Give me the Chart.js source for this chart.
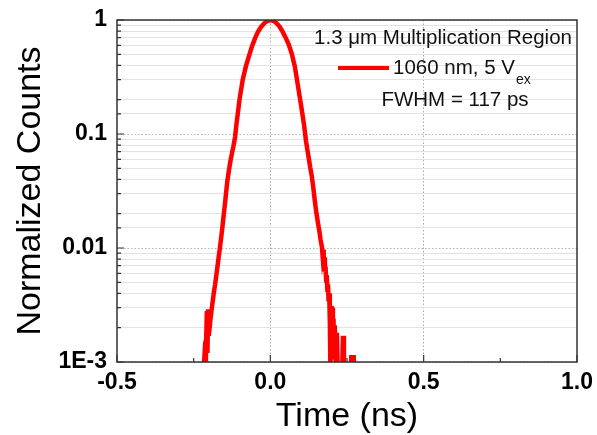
<!DOCTYPE html>
<html>
<head>
<meta charset="utf-8">
<script src="https://cdn.jsdelivr.net/npm/chart.js@4/dist/chart.umd.min.js"></script>
<style>
  html, body { margin: 0; padding: 0; background: #fff; }
  #wrap { width: 597px; height: 435px; }
</style>
</head>
<body>
<div id="wrap"><canvas id="c" width="597" height="435"></canvas></div>
<script>
// Zpožděná odezva detektoru, normované počty (log osa)
const times = [
  -0.300, -0.230, -0.218, -0.215, -0.212, -0.210, -0.207, -0.205, -0.203, -0.201,
  -0.198, -0.195, -0.192, -0.188, -0.184, -0.180, -0.176, -0.172, -0.168, -0.164,
  -0.160, -0.156, -0.152, -0.148, -0.144, -0.140, -0.135, -0.130, -0.125, -0.120,
  -0.115, -0.110, -0.100, -0.090, -0.080, -0.070, -0.060, -0.050, -0.040, -0.030,
  -0.020, -0.010, 0.000, 0.010, 0.020, 0.030, 0.040, 0.050, 0.060, 0.070,
  0.080, 0.090, 0.100, 0.110, 0.116, 0.120, 0.125, 0.130, 0.135, 0.140,
  0.145, 0.150, 0.155, 0.160, 0.164, 0.168, 0.170, 0.172, 0.174, 0.176,
  0.178, 0.180, 0.182, 0.184, 0.186, 0.188, 0.190, 0.192, 0.194, 0.196,
  0.198, 0.200, 0.202, 0.204, 0.206, 0.208, 0.210, 0.212, 0.214, 0.217,
  0.220, 0.234, 0.237, 0.240, 0.262, 0.264, 0.272, 0.274, 0.300,
];
const counts = [
  0.0008, 0.0008, 0.0008, 0.0011, 0.0010, 0.0013, 0.0028, 0.0012, 0.0029, 0.0017,
  0.0020, 0.0024, 0.0028, 0.0034, 0.0041, 0.0048, 0.0058, 0.0070, 0.0085, 0.0102,
  0.0125, 0.0155, 0.0195, 0.0245, 0.031, 0.039, 0.048, 0.058, 0.068, 0.079,
  0.094, 0.125, 0.205, 0.300, 0.390, 0.480, 0.585, 0.690, 0.790, 0.870,
  0.935, 0.980, 1.000, 0.985, 0.940, 0.875, 0.790, 0.700, 0.610, 0.505,
  0.390, 0.265, 0.180, 0.120, 0.088, 0.075, 0.062, 0.051, 0.043, 0.034,
  0.026, 0.0205, 0.0168, 0.0140, 0.0118, 0.0103, 0.0088, 0.0097, 0.0074, 0.0083,
  0.0062, 0.0069, 0.0052, 0.0058, 0.0043, 0.0048, 0.0034, 0.0040, 0.0023, 0.0008,
  0.0031, 0.0026, 0.0030, 0.0016, 0.0024, 0.0011, 0.0021, 0.0014, 0.0008, 0.0018,
  0.0008, 0.0008, 0.0017, 0.0008, 0.0008, 0.0011, 0.0011, 0.0008, 0.0008,
];
const yTickLabels = { 1: '1', 0.1: '0.1', 0.01: '0.01', 0.001: '1E-3' };
const legendLines = ['1.3 \u03bcm Multiplication Region', '1060 nm, 5 V', 'FWHM = 117 ps'];

const FONT = '"Liberation Sans", Arial, sans-serif';
const isDecade = (v) => Math.abs(Math.log10(v) - Math.round(Math.log10(v))) < 1e-6;
const isHalf = (v) => Math.abs(v * 2 - Math.round(v * 2)) < 1e-6;

// rám, dovnitř mířící značky a textová legenda
const framePlugin = {
  id: 'frame',
  afterDraw(chart) {
    const { ctx, chartArea: a, scales } = chart;
    ctx.save();
    ctx.strokeStyle = '#333';
    ctx.lineWidth = 1.5;
    ctx.strokeRect(a.left, a.top, a.right - a.left, a.bottom - a.top);
    ctx.lineWidth = 1.2;
    ctx.beginPath();
    scales.y.ticks.forEach((t) => {
      const py = scales.y.getPixelForValue(t.value);
      const len = isDecade(t.value) ? 7 : 4;
      ctx.moveTo(a.left, py); ctx.lineTo(a.left + len, py);
    });
    scales.x.ticks.forEach((t) => {
      const px = scales.x.getPixelForValue(t.value);
      const len = isHalf(t.value) ? 7 : 4;
      ctx.moveTo(px, a.bottom); ctx.lineTo(px, a.bottom - len);
    });
    ctx.stroke();

    ctx.fillStyle = '#111';
    ctx.font = '20.5px ' + FONT;
    ctx.textBaseline = 'middle';
    ctx.textAlign = 'center';
    ctx.fillText(legendLines[0], 443, 38);
    ctx.textAlign = 'left';
    ctx.fillText(legendLines[1], 393, 68);
    const w = ctx.measureText(legendLines[1]).width;
    ctx.font = '14px ' + FONT;
    ctx.fillText('ex', 393 + w + 1, 80);
    ctx.font = '20.5px ' + FONT;
    ctx.textAlign = 'center';
    ctx.fillText(legendLines[2], 455, 100);
    ctx.strokeStyle = 'rgb(255,0,0)';
    ctx.lineWidth = 4;
    ctx.beginPath();
    ctx.moveTo(338, 68); ctx.lineTo(389, 68);
    ctx.stroke();
    ctx.restore();
  },
};

new Chart(document.getElementById('c'), {
  type: 'line',
  data: {
    datasets: [{
      label: '1060 nm, 5 Vex',
      data: times.map((t, i) => ({ x: t, y: counts[i] })),
      borderColor: 'rgb(255,0,0)',
      borderWidth: 4.5,
      pointRadius: 0,
      tension: 0,
    }],
  },
  options: {
    responsive: false,
    animation: false,
    layout: { padding: { top: 20, right: 20, left: 0, bottom: 0 } },
    plugins: { legend: { display: false }, tooltip: { enabled: false } },
    scales: {
      x: {
        type: 'linear', min: -0.5, max: 1.0,
        afterFit: (s) => { s.height = 73; s.paddingLeft = 0; s.paddingRight = 0; },
        ticks: {
          stepSize: 0.25, autoSkip: false, maxRotation: 0, padding: 7,
          color: '#000', font: { family: FONT, size: 23, weight: 'bold' },
          callback: (v) => isHalf(v) ? Number(v).toFixed(1) : '',
        },
        grid: {
          drawTicks: false,
          color: (c) => c.tick && (Math.abs(c.tick.value) < 1e-6 || Math.abs(c.tick.value - 0.5) < 1e-6) ? '#a8a8a8' : 'transparent',
          lineWidth: 1,
        },
        border: { display: false, dash: [1.5, 2] },
        title: {
          display: true, text: 'Time (ns)', color: '#000',
          font: { family: FONT, size: 34, lineHeight: 1 }, padding: { top: 0, bottom: 1 },
        },
      },
      y: {
        type: 'logarithmic', min: 0.001, max: 1,
        afterFit: (s) => { s.width = 117; s.paddingTop = 0; s.paddingBottom = 0; },
        ticks: {
          autoSkip: false, padding: 10,
          color: '#000', font: { family: FONT, size: 23, weight: 'bold' },
          callback: (v) => yTickLabels[v] !== undefined ? yTickLabels[v] : '',
        },
        grid: {
          drawTicks: false,
          color: (c) => {
            if (!c.tick) return 'transparent';
            return isDecade(c.tick.value) ? '#b4b4b4' : '#e3e3e3';
          },
          lineWidth: 1,
        },
        border: {
          display: false,
          dash: (c) => c.tick && isDecade(c.tick.value) ? [1.5, 2] : [],
        },
        title: {
          display: true, text: 'Normalized Counts', color: '#000',
          font: { family: FONT, size: 34, lineHeight: 1 }, padding: { top: 14, bottom: 0 },
        },
      },
    },
  },
  plugins: [framePlugin],
});
</script>
</body>
</html>
